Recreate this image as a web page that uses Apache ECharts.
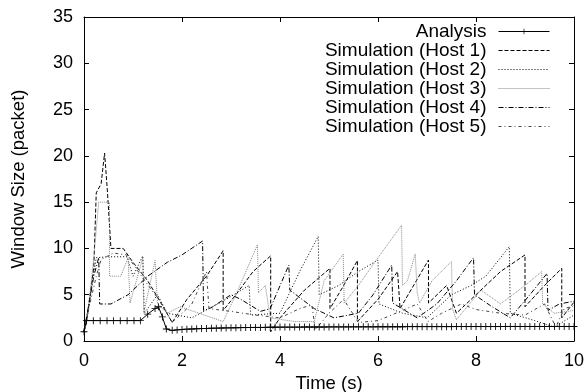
<!DOCTYPE html>
<html>
<head>
<meta charset="utf-8">
<script src="https://cdn.jsdelivr.net/npm/echarts@6/dist/echarts.min.js"></script>
<style>
html,body{margin:0;padding:0;background:#fff;}
#chart{width:586px;height:392px;}
</style>
</head>
<body>
<div id="chart"></div>
<script>
var seriesNames = ['Analysis', 'Simulation (Host 1)', 'Simulation (Host 2)', 'Simulation (Host 3)', 'Simulation (Host 4)', 'Simulation (Host 5)'];
var xTicks = [0, 2, 4, 6, 8, 10];
var yTicks = [0, 5, 10, 15, 20, 25, 30, 35];

var analysisTime = [0, 0.05, 0.19, 0.33, 0.47, 0.6, 0.74, 0.88, 1.02, 1.15, 1.3, 1.45, 1.52, 1.6, 1.68,
  1.8, 1.9, 2.0, 2.1, 2.2, 2.3, 2.4, 2.5, 2.6, 2.7, 2.8, 2.9, 3.0, 3.1, 3.2, 3.3, 3.4, 3.5, 3.6, 3.7, 3.8, 3.9,
  4.0, 4.1, 4.2, 4.3, 4.4, 4.5, 4.6, 4.7, 4.8, 4.9, 5.0, 5.1, 5.2, 5.3, 5.4, 5.5, 5.6, 5.7, 5.8, 5.9,
  6.0, 6.1, 6.2, 6.3, 6.4, 6.5, 6.6, 6.7, 6.8, 6.9, 7.0, 7.1, 7.2, 7.3, 7.4, 7.5, 7.6, 7.7, 7.8, 7.9,
  8.0, 8.1, 8.2, 8.3, 8.4, 8.5, 8.6, 8.7, 8.8, 8.9, 9.0, 9.1, 9.2, 9.3, 9.4, 9.5, 9.6, 9.7, 9.8, 9.9, 10.0];
var analysisWindow = [1, 2.2, 2.2, 2.2, 2.2, 2.2, 2.2, 2.2, 2.2, 2.2, 2.9, 3.5, 3.7, 2.6, 1.3,
  1.15, 1.2, 1.25, 1.28, 1.3, 1.32, 1.34, 1.36, 1.38, 1.39, 1.4, 1.41, 1.42, 1.43, 1.44, 1.45, 1.46, 1.47, 1.47, 1.48, 1.49, 1.49,
  1.5, 1.5, 1.5, 1.5, 1.5, 1.51, 1.51, 1.51, 1.51, 1.51, 1.52, 1.52, 1.52, 1.52, 1.52, 1.53, 1.53, 1.53, 1.53, 1.53,
  1.54, 1.54, 1.54, 1.54, 1.54, 1.54, 1.55, 1.55, 1.55, 1.55, 1.55, 1.55, 1.55, 1.55, 1.55, 1.55, 1.56, 1.56, 1.56, 1.56,
  1.56, 1.56, 1.56, 1.56, 1.56, 1.56, 1.57, 1.57, 1.57, 1.57, 1.57, 1.57, 1.57, 1.57, 1.57, 1.57, 1.57, 1.57, 1.57, 1.57, 1.57];

var host1 = [[0,1],[0.05,2],[0.1,4],[0.15,6],[0.2,8],[0.25,16],[0.35,17],[0.42,20.3],[0.48,16],[0.55,10],[0.8,10],
  [1.0,8.5],[1.3,6.5],[1.55,4.3],[1.8,2],[2.1,4.5],[2.5,7],[2.84,9.75],[2.84,3.3],[3.1,5],[3.45,7.5],[3.81,9.2],[3.81,1.0],
  [4.0,2.5],[4.5,5.5],[5.02,7.85],[5.02,3.5],[5.3,6],[5.58,8.7],[5.58,2.1],[6.0,4.5],[6.4,7.5],[6.45,3.5],[7.03,8.75],[7.03,4.1],
  [7.4,6],[7.6,3],[8.0,5],[8.5,7.5],[9.0,9.3],[9.0,3.7],[9.4,6],[9.75,7.85],[9.75,2.5],[10,4.2]];
var host2 = [[0,1],[0.08,3],[0.16,6],[0.25,9],[0.5,9.1],[0.88,9.1],[1.0,7],[1.2,9.2],[1.23,3],[1.5,5],[1.7,3],[2.2,2.5],
  [2.9,4.5],[3.37,6],[3.4,2.8],[4.0,3],[4.4,7.5],[4.78,11.3],[4.8,5.0],[5.2,6],[5.6,7.5],[6.0,8.75],[6.02,4],[6.5,3],[7.0,2.5],
  [7.5,5],[7.9,6],[8.2,7],[8.68,10.2],[8.7,3],[9.2,2.2],[9.6,1.5],[10,2.8]];
var host3 = [[0,1],[0.1,4],[0.2,9],[0.3,15],[0.52,15],[0.52,7],[0.75,7],[0.9,9],[0.94,4.1],[1.2,9],[1.22,3],[1.45,8.7],[1.5,4],
  [1.7,3],[1.96,3.7],[2.84,2.1],[3.1,5],[3.54,10.4],[3.56,5.2],[3.7,6],[3.8,2.5],[4.3,2.1],[4.7,2.1],[4.9,6.5],[5.29,9.4],[5.31,4.1],
  [5.6,6],[6.0,9],[6.48,12.5],[6.5,6.0],[6.6,6.5],[6.76,9.4],[6.8,5.2],[6.85,4.1],[7.1,6.5],[7.5,8.6],[7.52,3.5],[7.6,2.3],
  [8.1,5.5],[8.5,4],[9.0,6],[9.34,7.5],[9.36,4],[9.6,3],[10,3.3]];
var host4 = [[0,1],[0.1,4],[0.2,7],[0.3,9],[0.32,4],[0.55,4],[0.9,5],[1.3,7],[1.7,8.5],[2.0,9.3],[2.42,10.8],[2.44,3.3],[2.6,3.6],
  [3.0,5],[3.2,4.5],[3.6,3.2],[3.8,3.5],[4.18,8.2],[4.2,5.5],[4.7,3.5],[5.1,2.5],[5.6,3],[5.9,5],[6.28,8.2],[6.3,4.1],[6.8,2.5],
  [7.2,4],[7.6,6.5],[7.95,9.0],[7.97,5],[8.3,3.8],[8.7,2.5],[9.1,5],[9.45,7.3],[9.47,3.3],[9.7,4],[10,4.3]];
var host5 = [[0,1],[0.12,4],[0.25,7],[0.35,8.8],[0.6,9.5],[0.87,9.3],[1.2,6.8],[1.55,4.3],[1.8,2],[2.2,4],[2.5,7.5],[2.55,3.5],
  [3.0,3.2],[3.5,2.8],[4.0,2.5],[4.4,3.5],[4.65,3.9],[4.72,1.2],[5.0,3],[5.3,4.5],[5.6,2],[6.0,2.2],[6.5,3.3],[6.8,4.0],[7.02,2.1],
  [7.3,3],[7.7,4],[8.0,3.4],[8.5,3],[9.0,2.8],[9.4,4],[9.63,1.5],[9.8,3.5],[10,3.8]];

var analysisData = analysisTime.map(function (t, i) { return [t, analysisWindow[i]]; });
var simData = [host1, host2, host3, host4, host5];
var simColors = ['#000', '#000', '#888', '#000', '#444'];
var simDash = [[4, 2], [1, 2], [1, 1], [5, 2, 1, 2], [3, 3, 1, 3]];

var FONT = 'Liberation Sans, Arial, Helvetica, sans-serif';
var plusPath = 'path://M4.4,0H5.6V4.4H10V5.6H5.6V10H4.4V5.6H0V4.4H4.4Z';

var series = [{
  name: seriesNames[0], type: 'line', data: analysisData,
  symbol: plusPath, symbolSize: 7, showAllSymbol: true,
  itemStyle: { color: '#000' },
  lineStyle: { color: '#000', width: 1 },
  emphasis: { disabled: true }, z: 10
}];
simData.forEach(function (d, i) {
  series.push({
    name: seriesNames[i + 1], type: 'line', data: d, symbol: 'none',
    itemStyle: { color: simColors[i] },
    lineStyle: { color: simColors[i], width: 1, type: simDash[i] },
    emphasis: { disabled: true }
  });
});

var legends = seriesNames.map(function (n, i) {
  return {
    data: [n], right: 36, top: 22 + i * 19, orient: 'vertical', align: 'right',
    itemWidth: 51, itemHeight: 7, padding: 0, itemGap: 0, selectedMode: false,
    itemStyle: { opacity: i === 0 ? 1 : 0 },
    lineStyle: { width: 1 },
    textStyle: { fontFamily: FONT, fontSize: 19, color: '#000', padding: [0, 7, 0, 0] }
  };
});

function axisCommon(extra) {
  var o = {
    type: 'value', splitLine: { show: false },
    axisLine: { show: true, onZero: false, lineStyle: { color: '#000', width: 1 } },
    axisTick: { show: true, inside: true, length: 5, lineStyle: { color: '#000', width: 1 } },
    axisLabel: { show: false }
  };
  for (var k in extra) o[k] = extra[k];
  return o;
}

var chart = echarts.init(document.getElementById('chart'), null, { renderer: 'canvas' });
chart.setOption({
  animation: false,
  backgroundColor: '#fff',
  grid: { left: 84, right: 12, top: 17, bottom: 51, containLabel: false, outerBoundsMode: 'none' },
  legend: legends,
  xAxis: [
    axisCommon({ min: xTicks[0], max: xTicks[xTicks.length - 1], interval: 2, position: 'bottom',
      name: 'Time (s)', nameLocation: 'middle', nameGap: 21,
      nameTextStyle: { fontFamily: FONT, fontSize: 18.5, color: '#000' },
      axisLabel: { show: true, margin: 11, fontFamily: FONT, fontSize: 18, color: '#000' } }),
    axisCommon({ min: xTicks[0], max: xTicks[xTicks.length - 1], interval: 2, position: 'top' })
  ],
  yAxis: [
    axisCommon({ min: yTicks[0], max: yTicks[yTicks.length - 1], interval: 5, position: 'left',
      name: 'Window Size (packet)', nameLocation: 'middle', nameGap: 56,
      nameTextStyle: { fontFamily: FONT, fontSize: 18.5, color: '#000' },
      axisLabel: { show: true, margin: 11, fontFamily: FONT, fontSize: 18, color: '#000' } }),
    axisCommon({ min: yTicks[0], max: yTicks[yTicks.length - 1], interval: 5, position: 'right' })
  ],
  series: series
});
</script>
</body>
</html>
